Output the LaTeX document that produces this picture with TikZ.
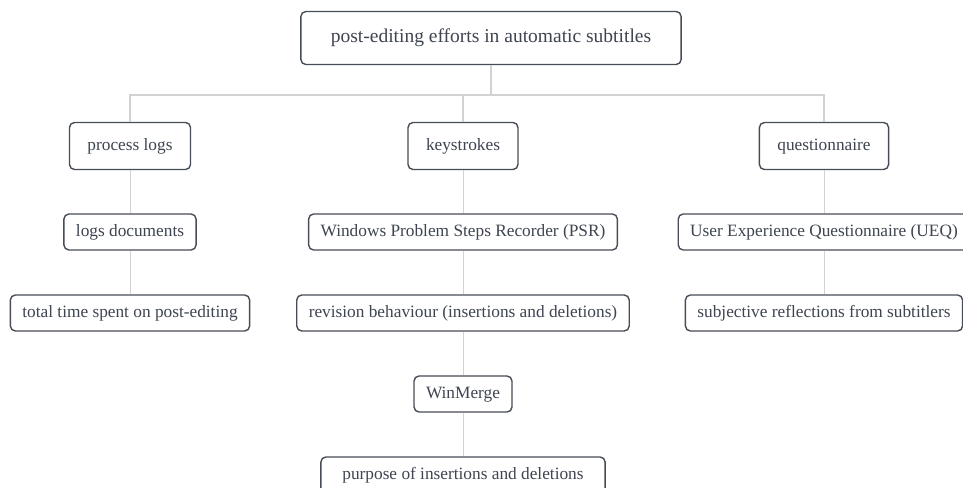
\documentclass[tikz,border=0pt]{standalone}
\usepackage{fontspec}
\setmainfont{Liberation Serif}
\usepackage{tikz}

\definecolor{boxline}{HTML}{474D56}
\definecolor{boxtext}{HTML}{3E4450}
\definecolor{wire}{HTML}{D2D2D2}

\begin{document}
\begin{tikzpicture}[
  x=1bp, y=-1bp,
  every node/.style={draw=boxline, line width=1.4bp, rounded corners=5bp,
    fill=white, text=boxtext, text height=0.86em, text depth=0em,
    font=\fontsize{17.3bp}{20bp}\selectfont}, % all boxes alike
  top/.style={minimum height=53bp, inner xsep=30bp,
    font=\fontsize{19.5bp}{23bp}\selectfont},
  branch/.style={minimum height=47bp, inner xsep=18bp},
  leaf/.style={minimum height=36bp, inner xsep=12bp},
  trunk/.style={draw=wire, line width=2.4bp},
  twig/.style={draw=wire, line width=1bp}
]
  \useasboundingbox (0,0) rectangle (963,488);

  \node[top] (root) at (491,38) {post-editing efforts in automatic subtitles};

  \node[branch] (logs) at (130,146) {process logs};
  \node[branch] (keys) at (463,146) {keystrokes};
  \node[branch] (quest) at (824,146) {questionnaire};

  \node[leaf] (logdoc) at (130,232) {logs documents};
  \node[leaf] (total) at (130,313) {total time spent on post-editing};

  \node[leaf] (psr) at (463,232) {Windows Problem Steps Recorder (PSR)};
  \node[leaf] (revis) at (463,313) {revision behaviour (insertions and deletions)};
  \node[leaf] (merge) at (463,394) {WinMerge};
  \node[leaf, inner xsep=21.5bp] (purp) at (463,475) {purpose of insertions and deletions};

  \node[leaf] (ueq) at (824,232) {User Experience Questionnaire (UEQ)};
  \node[leaf] (subj) at (824,313) {subjective reflections from subtitlers};

  \coordinate (bus) at (491,95);
  \draw[trunk] (root.south) -- (bus) -| (logs.north);
  \draw[trunk] (bus) -| (keys.north);
  \draw[trunk] (bus) -| (quest.north);

  \draw[twig] (logs) -- (logdoc);
  \draw[twig] (logdoc) -- (total);
  \draw[twig] (keys) -- (psr);
  \draw[twig] (psr) -- (revis);
  \draw[twig] (revis) -- (merge);
  \draw[twig] (merge) -- (purp);
  \draw[twig] (quest) -- (ueq);
  \draw[twig] (ueq) -- (subj);
\end{tikzpicture}
\end{document}
